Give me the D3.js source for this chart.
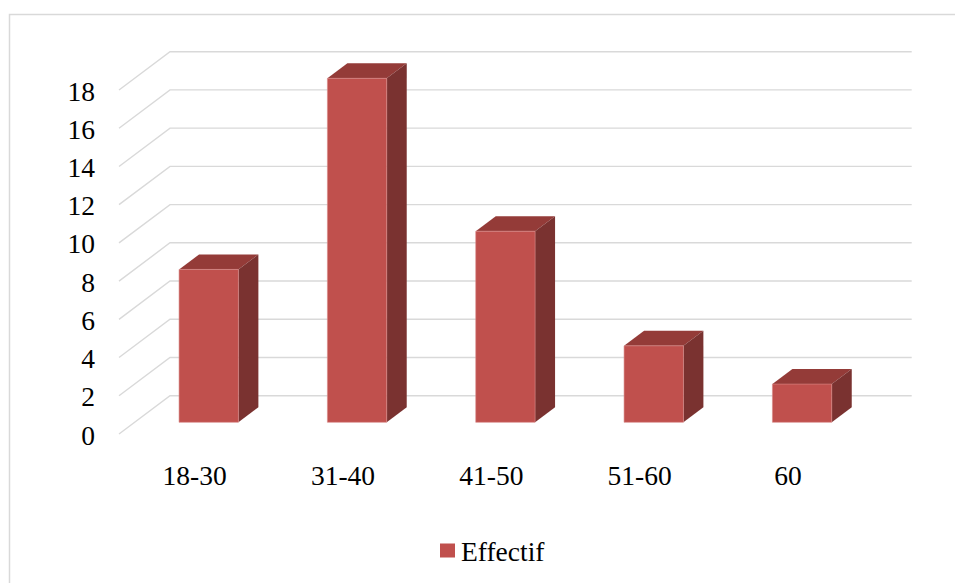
<!DOCTYPE html>
<html><head><meta charset="utf-8">
<script src="https://cdn.jsdelivr.net/npm/d3@7/dist/d3.min.js"></script>
<style>html,body{margin:0;padding:0;background:#fff;overflow:hidden}</style>
</head><body>
<svg id="c" width="955" height="583"></svg>
<script>
const categories = ["18-30", "31-40", "41-50", "51-60", "60"];
const values = [8, 18, 10, 4, 2];
const yTicks = [0, 2, 4, 6, 8, 10, 12, 14, 16, 18];
const seriesName = "Effectif";
const FONT = "'Liberation Serif', 'Times New Roman', serif";

const svg = d3.select("#c");

svg.append("rect").attr("x", 9.5).attr("y", 14.5).attr("width", 1000).attr("height", 700)
  .attr("fill", "none").attr("stroke", "#d9d9d9").attr("stroke-width", 1.5);

const x = d3.scaleBand().domain(categories).range([170, 911.7]).padding(0);
const y = d3.scaleLinear().domain([0, 18]).range([395.7, 51.7]);
const depthX = -51, depthY = 38.3;
const P = (xb, v, z) => [xb + z * depthX, y(v) + z * depthY];

const grid = svg.append("g").attr("stroke", "#d9d9d9").attr("stroke-width", 1.4).attr("fill", "none");
yTicks.forEach(t => {
  const a = P(170, t, 1), b = P(170, t, 0), c = P(911.7, t, 0);
  grid.append("path").attr("d", d3.line()([a, b, c]));
});

svg.append("g").selectAll("text").data(yTicks).join("text")
  .attr("x", 95).attr("y", d => P(170, d, 1)[1] + 10.5)
  .attr("text-anchor", "end").attr("font-size", 27.5)
  .attr("font-family", FONT)
  .attr("fill", "#000").text(d => d);

const zf = 0.695, zb = 0.303;
const bw = x.bandwidth() * 0.4;
const bars = svg.append("g");
categories.forEach((cat, i) => {
  const v = values[i];
  const cx = x(cat) + x.bandwidth() / 2;
  const x0 = cx - bw / 2, x1 = cx + bw / 2;
  const line = d3.line();
  bars.append("path").attr("d", line([P(x0, v, zf), P(x1, v, zf), P(x1, v, zb), P(x0, v, zb)]) + "Z")
    .attr("fill", "#943B38");
  bars.append("path").attr("d", line([P(x1, 0, zf), P(x1, v, zf), P(x1, v, zb), P(x1, 0, zb)]) + "Z")
    .attr("fill", "#7A3230");
  bars.append("path").attr("d", line([P(x0, 0, zf), P(x1, 0, zf), P(x1, v, zf), P(x0, v, zf)]) + "Z")
    .attr("fill", "#C0504D").attr("stroke", "#d88a88").attr("stroke-width", 0.6);
});

svg.append("g").selectAll("text").data(categories).join("text")
  .attr("x", d => P(x(d) + x.bandwidth() / 2, 0, 1)[0] + 1.5)
  .attr("y", P(170, 0, 1)[1] + 51)
  .attr("text-anchor", "middle").attr("font-size", 27.5)
  .attr("font-family", FONT)
  .attr("fill", "#000").text(d => d);

const lg = svg.append("g");
lg.append("rect").attr("x", 440).attr("y", 543.5).attr("width", 15).attr("height", 14).attr("fill", "#C0504D");
lg.append("text").attr("x", 461).attr("y", 561).attr("font-size", 27.5)
  .attr("font-family", FONT)
  .attr("fill", "#000").text(seriesName);
</script>
</body></html>
